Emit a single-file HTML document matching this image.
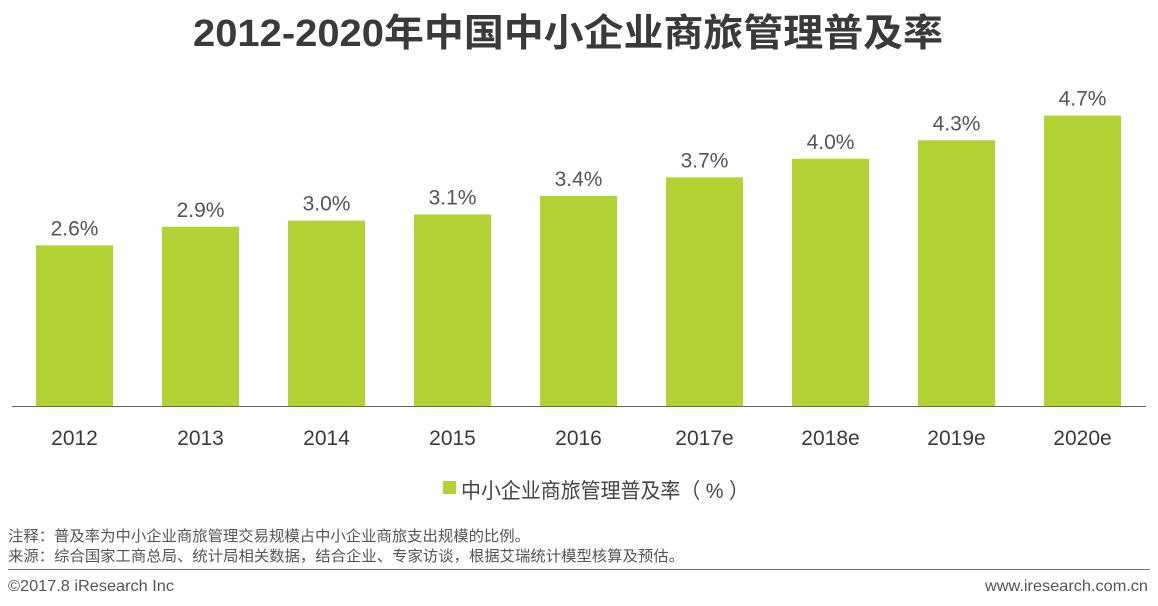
<!DOCTYPE html>
<html><head><meta charset="utf-8">
<style>
body{margin:0;width:1158px;height:606px;background:#fff;overflow:hidden;font-family:"Liberation Sans","Noto Sans CJK SC",sans-serif;}
svg{display:block}
</style></head>
<body>
<svg width="1158" height="606" xmlns="http://www.w3.org/2000/svg" id="chart">
<text x="568" y="46" text-anchor="middle" font-size="38" font-weight="bold" fill="#3a3a3a" textLength="750" lengthAdjust="spacingAndGlyphs" font-family="Liberation Sans,Noto Sans CJK SC,sans-serif">2012-2020年中国中小企业商旅管理普及率</text>
<g id="bars"></g>
<line x1="12" y1="406.5" x2="1146" y2="406.5" stroke="#666" stroke-width="1"/>
<g>
<rect x="443" y="481" width="13" height="13" fill="#b3d234"/>
<text x="461" y="498" font-size="21" fill="#444" textLength="288" lengthAdjust="spacingAndGlyphs" font-family="Liberation Sans,Noto Sans CJK SC,sans-serif">中小企业商旅管理普及率（ % ）</text>
</g>
<text x="8" y="541" font-size="15" fill="#555" textLength="522" lengthAdjust="spacingAndGlyphs" font-family="Liberation Sans,Noto Sans CJK SC,sans-serif">注释：普及率为中小企业商旅管理交易规模占中小企业商旅支出规模的比例。</text>
<text x="8" y="561" font-size="15" fill="#555" textLength="676" lengthAdjust="spacingAndGlyphs" font-family="Liberation Sans,Noto Sans CJK SC,sans-serif">来源：综合国家工商总局、统计局相关数据，结合企业、专家访谈，根据艾瑞统计模型核算及预估。</text>
<line x1="8" y1="569.5" x2="1150" y2="569.5" stroke="#777" stroke-width="1"/>
<text x="8" y="591" font-size="16" fill="#555" textLength="166" lengthAdjust="spacingAndGlyphs">©2017.8 iResearch Inc</text>
<text x="985" y="591" font-size="16" fill="#555" textLength="163" lengthAdjust="spacingAndGlyphs">www.iresearch.com.cn</text>
</svg>
<script>
const categories=["2012","2013","2014","2015","2016","2017e","2018e","2019e","2020e"];
const values=[2.6,2.9,3.0,3.1,3.4,3.7,4.0,4.3,4.7];
const valueLabels=["2.6%","2.9%","3.0%","3.1%","3.4%","3.7%","4.0%","4.3%","4.7%"];
const baseY=406, pxPerUnit=61.8, x0=74.5, step=126, bw=77;
function xScale(i){return x0+step*i;}
function yScale(v){return baseY-v*pxPerUnit;}
const g=document.getElementById('bars');
const NS="http://www.w3.org/2000/svg";
categories.forEach((c,i)=>{
  const cx=xScale(i), y=yScale(values[i]);
  const r=document.createElementNS(NS,'rect');
  r.setAttribute('x',cx-bw/2);r.setAttribute('y',y);r.setAttribute('width',bw);r.setAttribute('height',baseY-y);r.setAttribute('fill','#b3d234');
  
  
  g.appendChild(r);
  const t=document.createElementNS(NS,'text');
  t.setAttribute('x',cx);t.setAttribute('y',y-10);t.setAttribute('text-anchor','middle');t.setAttribute('font-size','21');t.setAttribute('fill','#555');
  t.textContent=valueLabels[i];
  
  
  g.appendChild(t);
  const l=document.createElementNS(NS,'text');
  l.setAttribute('x',cx);l.setAttribute('y',445);l.setAttribute('text-anchor','middle');l.setAttribute('font-size','21');l.setAttribute('fill','#3a3a3a');
  l.textContent=c;
  
  
  g.appendChild(l);
});
</script>
</body></html>
